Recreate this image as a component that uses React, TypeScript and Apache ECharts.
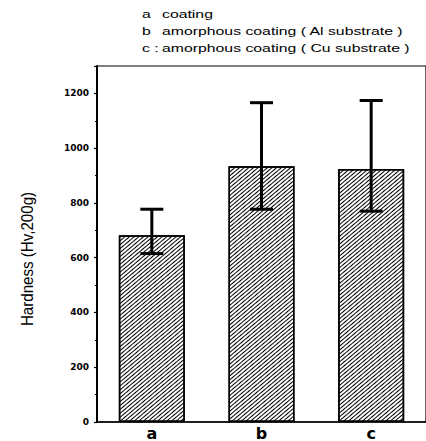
import React, { useEffect, useRef } from "react";
import * as echarts from "echarts";

const categories = ["a", "b", "c"];
const hardness = [682, 934, 924];
const errLow = [615, 777, 770];
const errHigh = [777, 1166, 1174];
const yTickInterval = 200;
const yTitle = "Hardness (Hv,200g)";
const legendKeys = ["a", "b", "c :"];
const legendTexts = [
  "coating",
  "amorphous coating ( Al substrate )",
  "amorphous coating ( Cu substrate )",
];

function buildOption(): any {
  const errData = categories.map((_, i) => [i, errLow[i], errHigh[i]]);
  const graphics: any[] = [];
  legendKeys.forEach((k, i) => {
    graphics.push({
      type: "text",
      x: 142,
      y: 15 + i * 16.6,
      scaleX: 1.58,
      style: { text: k, font: '10px "Liberation Sans"', fill: "#000", verticalAlign: "middle" },
    });
    graphics.push({
      type: "text",
      x: 162,
      y: 15 + i * 16.6,
      scaleX: 1.58,
      style: { text: legendTexts[i], font: '10px "Liberation Sans"', fill: "#000", verticalAlign: "middle" },
    });
  });
  graphics.push({
    type: "text",
    x: 27,
    y: 259,
    rotation: Math.PI / 2,
    scaleX: 0.89,
    style: {
      text: yTitle,
      font: '17px "Liberation Sans"',
      fill: "#000",
      align: "center",
      verticalAlign: "middle",
    },
  });
  return {
    animation: false,
    backgroundColor: "#fff",
    graphic: graphics,
    grid: {
      left: 97,
      top: 66,
      bottom: 19,
      right: -6,
      show: true,
      borderColor: "#000",
      borderWidth: 1.2,
      backgroundColor: "transparent",
    },
    xAxis: {
      type: "category",
      data: categories,
      axisLine: { lineStyle: { color: "#000", width: 1.5 } },
      axisTick: { show: false },
      axisLabel: {
        color: "#000",
        fontFamily: "DejaVu Sans",
        fontWeight: "bold",
        fontSize: 16,
        margin: 3,
      },
    },
    yAxis: {
      type: "value",
      min: 0,
      max: 1300,
      interval: yTickInterval,
      axisLine: { show: true, lineStyle: { color: "#000", width: 2 } },
      axisTick: { show: true, inside: false, length: 3, lineStyle: { color: "#000", width: 1.2 } },
      minorTick: { show: true, splitNumber: 2, length: 2, lineStyle: { color: "#000", width: 1 } },
      splitLine: { show: false },
      axisLabel: {
        color: "#000",
        fontFamily: "DejaVu Sans",
        fontWeight: "bold",
        fontSize: 9,
        margin: 8,
        showMaxLabel: false,
        formatter: (v: number) => String(v),
      },
    },
    series: [
      {
        type: "bar",
        data: hardness,
        barWidth: 66,
        itemStyle: {
          color: "#fff",
          borderColor: "#000",
          borderWidth: 1.5,
          decal: {
            symbol: "rect",
            symbolSize: 1,
            color: "#000",
            dashArrayX: [1, 0],
            dashArrayY: [1, 1.7],
            rotation: -0.7,
          },
        },
      },
      {
        type: "custom",
        data: errData,
        encode: { x: 0, y: [1, 2] },
        z: 10,
        renderItem: (params: any, api: any) => {
          const idx = api.value(0);
          const lo = api.coord([idx, api.value(1)]);
          const hi = api.coord([idx, api.value(2)]);
          const hw = 11.5;
          const st = { stroke: "#000", lineWidth: 3 };
          return {
            type: "group",
            children: [
              { type: "line", shape: { x1: lo[0], y1: lo[1], x2: hi[0], y2: hi[1] }, style: st },
              { type: "line", shape: { x1: hi[0] - hw, y1: hi[1], x2: hi[0] + hw, y2: hi[1] }, style: st },
              { type: "line", shape: { x1: lo[0] - hw, y1: lo[1], x2: lo[0] + hw, y2: lo[1] }, style: st },
            ],
          };
        },
      },
    ],
  };
}

export default function App() {
  const ref = useRef<HTMLDivElement>(null);
  useEffect(() => {
    if (!ref.current) return;
    const chart = echarts.init(ref.current, null, { renderer: "svg" });
    chart.setOption(buildOption());
    return () => chart.dispose();
  }, []);
  return (
    <div
      ref={ref}
      style={{ position: "absolute", left: 0, top: 0, width: 426, height: 441, background: "#fff" }}
    />
  );
}
